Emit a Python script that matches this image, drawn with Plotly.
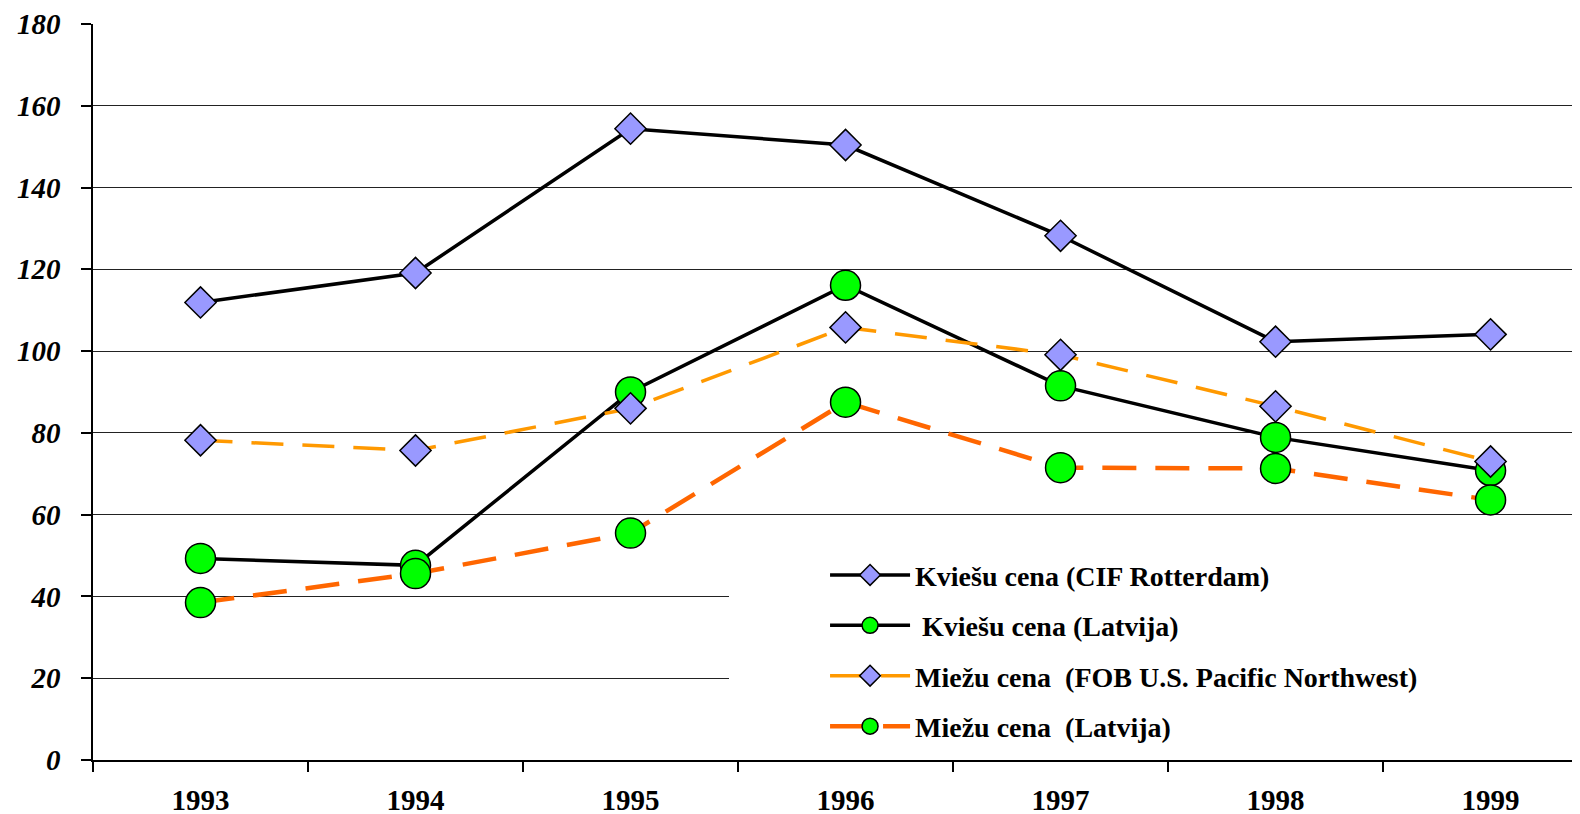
import plotly.graph_objects as go

years = ["1993", "1994", "1995", "1996", "1997", "1998", "1999"]
kviesu_cif = [111.9, 119.1, 154.4, 150.4, 128.2, 102.3, 104.1]
kviesu_lv = [49.3, 47.6, 90.0, 116.1, 91.5, 78.9, 70.8]
miezu_fob = [78.2, 75.7, 86.0, 105.8, 99.1, 86.5, 73.0]
miezu_lv = [38.5, 45.6, 55.5, 87.5, 71.5, 71.3, 63.6]
y_ticks = [0, 20, 40, 60, 80, 100, 120, 140, 160, 180]

names = [
    "Kviešu cena (CIF Rotterdam)",
    "\u00a0Kviešu cena (Latvija)",
    "Miežu cena \u00a0(FOB U.S. Pacific Northwest)",
    "Miežu cena \u00a0(Latvija)",
]

diamond = dict(symbol="diamond", size=24, color="#9999FF", line=dict(color="black", width=1.5))
circle = dict(symbol="circle", size=30, color="#00FF00", line=dict(color="black", width=1.5))

fig = go.Figure()
fig.add_trace(go.Scatter(x=years, y=kviesu_cif, name=names[0], mode="lines+markers",
                         line=dict(color="black", width=3.5), marker=diamond, legendgroup="a"))
fig.add_trace(go.Scatter(x=years, y=kviesu_lv, name=names[1], mode="lines+markers",
                         line=dict(color="black", width=3.5), marker=circle, legendgroup="b"))
fig.add_trace(go.Scatter(x=years, y=miezu_fob, name=names[2], mode="lines+markers",
                         line=dict(color="#FF9900", width=3.5, dash="32px,19px"), marker=diamond, legendgroup="c"))
fig.add_trace(go.Scatter(x=years, y=miezu_lv, name=names[3], mode="lines+markers",
                         line=dict(color="#FF6600", width=4.5, dash="34px,19px"), marker=circle, legendgroup="d"))

# white legend panel hiding the gridlines behind the legend
fig.add_shape(type="rect", xref="x", yref="y", x0=2.458, x1=6.6, y0=0.6, y1=56,
              fillcolor="white", line=dict(width=0), layer="between")

# page body has an 8px default margin, so the figure is shifted accordingly
fig.update_layout(
    width=1572, height=806,
    margin=dict(l=85, r=0, t=16, b=54),
    paper_bgcolor="white", plot_bgcolor="white",
    font=dict(family="Liberation Serif", color="black"),
    showlegend=True,
    legend=dict(x=0.4923, y=0.285, xanchor="left", yanchor="top", bgcolor="rgba(0,0,0,0)",
                font=dict(family="Liberation Serif", size=28, weight="bold", color="black"),
                tracegroupgap=11, itemwidth=80, traceorder="grouped"),
)
fig.update_xaxes(type="category", range=[-0.5, 6.416], showgrid=False, automargin=False,
                 showline=True, linecolor="black", linewidth=1.5,
                 ticks="outside", tickson="boundaries", ticklen=10, tickcolor="black", tickwidth=1.5,
                 tickfont=dict(family="Liberation Serif", size=29, weight="bold", color="black"),
                 ticklabelstandoff=13)
fig.update_yaxes(range=[0, 180], tickvals=y_ticks, showgrid=True, gridcolor="#222", gridwidth=1.3,
                 automargin=False,
                 showline=True, linecolor="black", linewidth=1.5, zeroline=False,
                 ticks="outside", ticklen=10, tickcolor="black", tickwidth=1.5,
                 tickfont=dict(family="Liberation Serif", size=29, weight="bold", style="italic", color="black"),
                 ticklabelstandoff=15)

fig.write_html("out.html")
